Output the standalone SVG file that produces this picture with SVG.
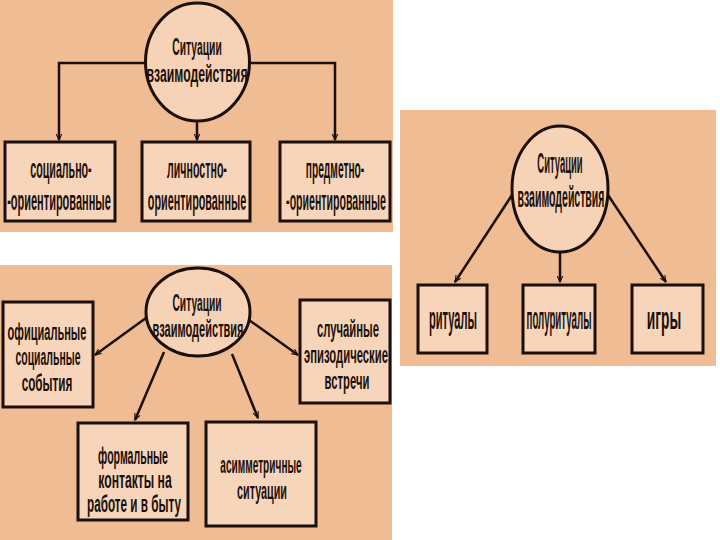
<svg xmlns="http://www.w3.org/2000/svg" width="720" height="540" viewBox="0 0 720 540">
<defs>
<style>
.bg{fill:#f0bc93}
.box{fill:#f7d5bb;stroke:#1b0f0a;stroke-width:3}
.ell{fill:#f6d2b6;stroke:#1b0f0a;stroke-width:3}
.ln{fill:none;stroke:#1b0f0a;stroke-width:2.5}
text{font-family:"Liberation Sans","DejaVu Sans",sans-serif;font-weight:bold;fill:#1b0f0a;text-anchor:middle}
.a{font-size:24px}
.b{font-size:28px}
.d{font-size:30px}
.e{font-size:32px}
.c{font-size:23px}
</style>
<marker id="ah" viewBox="0 0 10 10" refX="9" refY="5" markerWidth="7" markerHeight="7" markerUnits="userSpaceOnUse" orient="auto">
<path d="M0,1 L9,5 L0,9" fill="none" stroke="#1b0f0a" stroke-width="1.6"/>
</marker>
</defs>
<rect width="720" height="540" fill="#ffffff"/>
<rect class="bg" x="0" y="0" width="393" height="232"/>
<rect class="bg" x="400" y="110" width="316" height="256"/>
<rect class="bg" x="0" y="265" width="392" height="275"/>

<g id="connectors">
<path class="ln" d="M146,63 H59 V140" marker-end="url(#ah)"/>
<path class="ln" d="M249,63 H335 V140" marker-end="url(#ah)"/>
<path class="ln" d="M197,122 V140" marker-end="url(#ah)"/>
<path class="ln" d="M514,192 L455,282" marker-end="url(#ah)"/>
<path class="ln" d="M560,252 V282" marker-end="url(#ah)"/>
<path class="ln" d="M606,192 L666,282" marker-end="url(#ah)"/>
<path class="ln" d="M146,318 L95,355" marker-end="url(#ah)"/>
<path class="ln" d="M249,320 L298,355" marker-end="url(#ah)"/>
<path class="ln" d="M164,352 L135,420" marker-end="url(#ah)"/>
<path class="ln" d="M232,354 L258,418" marker-end="url(#ah)"/>
</g>

<g id="c1">
<ellipse class="ell" cx="197.5" cy="62" rx="52" ry="59"/>
<text class="a" transform="translate(197,55) scale(0.43,1)">Ситуации</text>
<text class="a" transform="translate(197,82) scale(0.51,1)">взаимодействия</text>
</g>
<g id="b1">
<rect class="box" x="5" y="142" width="110" height="79"/>
<text class="b" transform="translate(61,178) scale(0.381,1)">социально-</text>
<text class="b" transform="translate(59,210) scale(0.393,1)">-ориентированные</text>
</g>
<g id="b2">
<rect class="box" x="142" y="142" width="108" height="79"/>
<text class="b" transform="translate(197,178) scale(0.38,1)">личностно-</text>
<text class="b" transform="translate(197,210) scale(0.386,1)">ориентированные</text>
</g>
<g id="b3">
<rect class="box" x="280" y="142" width="110" height="79"/>
<text class="b" transform="translate(335,178) scale(0.365,1)">предметно-</text>
<text class="b" transform="translate(336,210) scale(0.378,1)">-ориентированные</text>
</g>

<g id="c2">
<ellipse class="ell" cx="560" cy="189" rx="48" ry="63"/>
<text class="d" transform="translate(560,173) scale(0.315,1)">Ситуации</text>
<text class="d" transform="translate(561,207) scale(0.351,1)">взаимодействия</text>
</g>
<g id="r1">
<rect class="box" x="418" y="285" width="69" height="68"/>
<text class="e" transform="translate(453,329) scale(0.346,1)">ритуалы</text>
</g>
<g id="r2">
<rect class="box" x="523" y="285" width="72" height="68"/>
<text class="e" transform="translate(559,329) scale(0.304,1)">полуритуалы</text>
</g>
<g id="r3">
<rect class="box" x="632" y="285" width="71" height="68"/>
<text class="e" transform="translate(664,329) scale(0.43,1)">игры</text>
</g>

<g id="c3">
<ellipse class="ell" cx="198" cy="312" rx="52" ry="44"/>
<text class="c" transform="translate(197,311) scale(0.445,1)">Ситуации</text>
<text class="c" transform="translate(198,337) scale(0.48,1)">взаимодействия</text>
</g>
<g id="o1">
<rect class="box" x="3" y="302" width="90" height="105"/>
<text class="c" transform="translate(47,340) scale(0.48,1)">официальные</text>
<text class="c" transform="translate(48,365) scale(0.455,1)">социальные</text>
<text class="c" transform="translate(47,391) scale(0.51,1)">события</text>
</g>
<g id="o2">
<rect class="box" x="300" y="300" width="90" height="103"/>
<text class="c" transform="translate(348,337) scale(0.49,1)">случайные</text>
<text class="c" transform="translate(346,363) scale(0.49,1)">эпизодические</text>
<text class="c" transform="translate(347,389) scale(0.49,1)">встречи</text>
</g>
<g id="o3">
<rect class="box" x="78" y="423" width="110" height="97"/>
<text class="c" transform="translate(133,464) scale(0.46,1)">формальные</text>
<text class="c" transform="translate(135,488) scale(0.53,1)">контакты на</text>
<text class="c" transform="translate(134,512) scale(0.51,1)">работе и в быту</text>
</g>
<g id="o4">
<rect class="box" x="206" y="422" width="110" height="104"/>
<text class="c" transform="translate(261,473) scale(0.44,1)">асимметричные</text>
<text class="c" transform="translate(262,499) scale(0.47,1)">ситуации</text>
</g>
</svg>
